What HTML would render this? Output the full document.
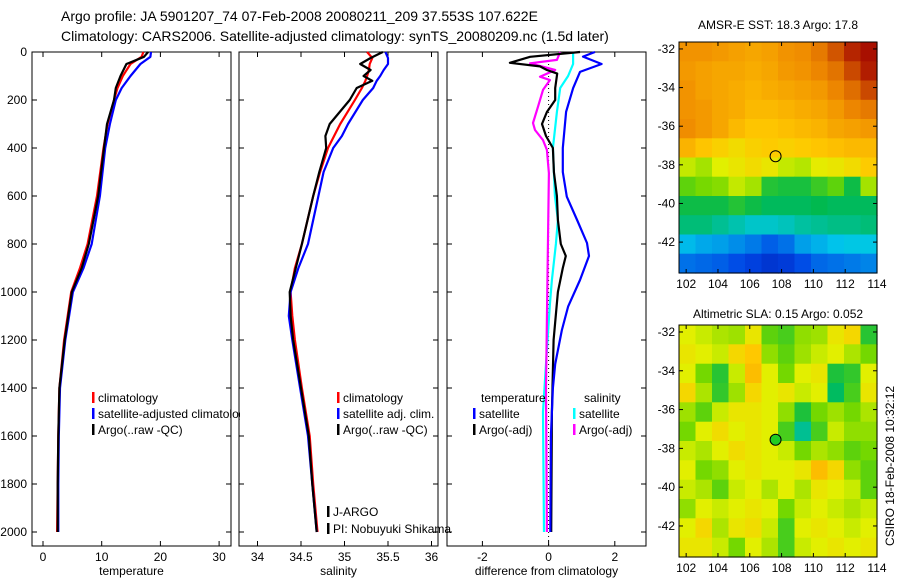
<!DOCTYPE html>
<html><head><meta charset="utf-8"><style>
body{margin:0;background:#fff}
svg{display:block;font-family:"Liberation Sans",sans-serif}
</style></head><body>
<svg id="c" width="900" height="580" viewBox="0 0 900 580" xmlns="http://www.w3.org/2000/svg">
<rect width="900" height="580" fill="#fff"/>
<text x="61" y="21" font-size="14">Argo profile: JA 5901207_74 07-Feb-2008 20080211_209 37.553S 107.622E</text>
<text x="61" y="41" font-size="14">Climatology: CARS2006. Satellite-adjusted climatology: synTS_20080209.nc (1.5d later)</text>
<text x="778" y="29" font-size="12" text-anchor="middle">AMSR-E SST: 18.3 Argo: 17.8</text>
<text x="778" y="318" font-size="12" text-anchor="middle">Altimetric SLA: 0.15 Argo: 0.052</text>
<text transform="translate(894,466) rotate(-90)" font-size="12" text-anchor="middle">CSIRO 18-Feb-2008 10:32:12</text>
<defs><clipPath id="clipLeg"><rect x="0" y="0" width="240" height="580"/></clipPath></defs>
<g id="plots"></g>
</svg>
<script>
// ---- profile data (depth m, value) ----
const depthTicks=[0,200,400,600,800,1000,1200,1400,1600,1800,2000];
const tempTicks=[0,10,20,30];
const salTicks=[34,34.5,35,35.5,36];
const salTickLabels=['34','34.5','35','35.5','36'];
const diffTicks=[-2,0,2];
const tempDepth=[0,20,50,100,150,200,300,400,600,800,900,1000,1200,1400,1600,1800,2000];
const tempClim=[17.1,16.8,14.9,13.6,12.7,12.1,11.0,10.3,9.2,7.6,6.3,4.8,3.6,2.8,2.6,2.5,2.4];
const tempSat=[18.4,18.3,16.6,14.9,13.4,12.4,11.4,10.6,9.7,8.3,6.9,5.1,3.8,2.9,2.7,2.6,2.6];
const tempArgo=[17.9,17.2,14.2,13.2,12.4,12.1,10.9,10.4,9.4,7.8,6.6,4.9,3.7,2.8,2.6,2.5,2.5];
const salDepth=[0,25,50,75,100,120,150,200,300,350,400,500,600,800,900,1000,1100,1200,1400,1600,1800,2000];
const salClim=[35.26,35.32,35.29,35.28,35.26,35.24,35.2,35.12,34.95,34.88,34.81,34.72,34.64,34.51,34.43,34.38,34.4,34.43,34.51,34.6,34.64,34.69];
const salSat=[35.47,35.5,35.5,35.45,35.41,35.37,35.33,35.21,35.04,34.97,34.87,34.76,34.7,34.58,34.47,34.38,34.36,34.4,34.49,34.58,34.63,34.68];
const salArgo=[35.44,35.3,35.18,35.3,35.22,35.32,35.14,35.06,34.83,34.78,34.79,34.71,34.64,34.51,34.44,34.37,34.38,34.41,34.5,34.59,34.63,34.68];
const dTsatDepth=[0,19,50,83,151,249,400,500,603,700,796,850,950,1061,1160,1300,1400,1600,2000];
const dTsat=[1.4,1.04,1.6,0.95,0.74,0.53,0.43,0.43,0.55,0.86,1.16,1.22,0.95,0.59,0.4,0.2,0.13,0.07,0.05];
const dSsatDepth=[0,50,100,150,250,400,600,700,800,950,1050,1300,1500,2000];
const dSsat=[0.74,0.74,0.59,0.35,0.25,0.13,0.19,0.28,0.22,0.1,0.04,-0.08,-0.17,-0.14];
const dTargoDepth=[0,20,45,60,75,90,150,200,250,300,350,400,500,600,700,800,850,900,1000,1200,1500,2000];
const dTargo=[0.95,-0.56,-1.17,-0.26,-0.05,0.26,0.2,0.2,-0.05,-0.2,-0.08,0.13,0.16,0.25,0.28,0.37,0.52,0.43,0.28,0.15,0.1,0.08];
const dSargoDepth=[0,33,47,75,103,117,158,228,296,325,367,408,505,1117,1400,2000];
const dSargo=[0.35,0.25,-0.56,0.2,-0.26,0.04,-0.17,-0.32,-0.47,-0.41,-0.17,-0.05,0.01,-0.05,-0.08,-0.05];
// ---- map data ----
const mapLonTicks=[102,104,106,108,110,112,114];
const mapLatTicks=[-32,-34,-36,-38,-40,-42];
const sstGrid=[
[19.8,19.8,19.7,19.6,19.5,19.6,19.8,19.9,20.2,20.8,21.5,21.8],
[19.7,19.6,19.5,19.5,19.4,19.5,19.7,19.8,20.0,20.3,21.0,21.6],
[19.8,19.6,19.5,19.4,19.3,19.4,19.5,19.6,19.7,20.0,20.4,21.0],
[19.8,19.7,19.5,19.4,19.2,19.2,19.3,19.4,19.5,19.7,20.0,20.2],
[19.9,19.7,19.5,19.2,19.0,19.0,19.1,19.2,19.3,19.5,19.6,19.7],
[19.3,19.0,18.8,18.6,18.8,18.9,18.8,18.9,19.0,19.1,19.2,19.2],
[18.0,17.8,18.2,18.4,18.6,18.4,18.0,17.9,18.3,18.4,18.6,18.9],
[17.3,17.5,17.6,18.0,17.8,16.8,16.7,16.7,17.0,17.3,16.6,17.8],
[16.6,16.6,16.6,16.8,16.6,16.4,16.4,16.4,16.5,16.4,16.4,16.4],
[16.2,16.2,16.0,15.8,15.6,15.6,15.7,15.9,16.0,16.1,16.1,16.2],
[15.2,15.0,14.9,14.7,14.5,14.2,14.4,14.9,15.1,15.3,15.4,15.4],
[14.4,14.3,14.2,14.0,13.8,13.6,13.7,14.0,14.3,14.4,14.5,14.6]];
const slaGrid=[
[.10,.08,.06,.05,.12,.00,-.02,.04,.05,.12,.15,-.05],
[.12,.10,.08,.15,.18,.04,.00,.05,.08,.10,.06,.02],
[.10,.02,-.05,.08,.20,.10,.02,.10,.12,-.06,-.04,.10],
[.15,.06,-.04,.05,.15,.10,.12,.08,.10,-.10,-.02,.12],
[.05,.00,.08,.12,.12,.10,.04,-.06,.02,.05,.02,.06],
[.02,.10,.14,.10,.12,.10,-.02,-.14,-.02,.08,.04,.04],
[.08,.06,.10,.14,.12,.10,.08,.02,.06,.04,.00,.02],
[.10,.02,.04,.10,.12,.10,.10,.12,.20,.15,.04,.00],
[.08,.06,.00,.08,.10,.06,.10,.06,.12,.10,.08,.00],
[.04,.10,.08,.10,.12,.10,.02,.08,.10,.08,.06,.08],
[.10,.15,.06,.12,.14,.08,-.02,.10,.12,.10,.08,.10],
[.12,.12,.08,.02,.10,.06,-.02,.08,.10,.12,.10,.12]];
const argoLon=107.622, argoLat=-37.553;

const NS='http://www.w3.org/2000/svg';
const root=document.getElementById('plots');
function mk(tag,attrs,parent){const e=document.createElementNS(NS,tag);for(const k in attrs)e.setAttribute(k,attrs[k]);(parent||root).appendChild(e);return e;}
const yD=d=>52+d*0.24;
const PT=546;
function panel(x0,x1,xf,ticks,labels,name,xlabel,showY){
  const g=mk('g',{});
  
  
  mk('rect',{x:x0,y:52,width:x1-x0,height:PT-52,fill:'none',stroke:'#000','stroke-width':1},g);
  ticks.forEach((t,i)=>{const x=xf(t);
    mk('line',{x1:x,x2:x,y1:PT,y2:PT-5,stroke:'#000'},g);
    mk('line',{x1:x,x2:x,y1:52,y2:57,stroke:'#000'},g);
    const tx=mk('text',{x:x,y:PT+15,'font-size':12,'text-anchor':'middle'},g);tx.textContent=labels[i];
    
    });
  depthTicks.forEach(d=>{const y=yD(d);
    mk('line',{x1:x0,x2:x0+5,y1:y,y2:y,stroke:'#000'},g);
    mk('line',{x1:x1,x2:x1-5,y1:y,y2:y,stroke:'#000'},g);
    if(showY){const t=mk('text',{x:x0-5,y:y+4,'font-size':12,'text-anchor':'end'},g);t.textContent=d;
      
      }});
  const xl=mk('text',{x:(x0+x1)/2,y:575,'font-size':12,'text-anchor':'middle'},g);xl.textContent=xlabel;
  
  
  return g;
}
function line(g,depths,vals,xf,color,name,w){
  const pts=depths.map((d,i)=>xf(vals[i]).toFixed(1)+','+yD(d).toFixed(1)).join(' ');
  const p=mk('polyline',{points:pts,fill:'none',stroke:color,'stroke-width':w||2.2,'stroke-linejoin':'round'},g);
  
  
}
function leg(g,x,y,color,text,name){
  mk('rect',{x:x,y:y-10,width:2.5,height:11,fill:color},g);
  const t=mk('text',{x:x+6,y:y,'font-size':12},g);t.textContent=text;
  
  
}
// temperature
const xT=v=>43+v*5.87;
const g1=panel(32,231,xT,tempTicks,tempTicks.map(String),'temperature-panel','temperature',true);
line(g1,tempDepth,tempClim,xT,'#f00','temp-climatology-line');
line(g1,tempDepth,tempSat,xT,'#00f','temp-satellite-line');
line(g1,tempDepth,tempArgo,xT,'#000','temp-argo-line');
const lg1=mk('g',{'clip-path':'url(#clipLeg)'},g1);


leg(lg1,92,402,'#f00','climatology','legend-climatology');
leg(lg1,92,418,'#00f','satellite-adjusted climatology','legend-satellite-adjusted');
leg(lg1,92,434,'#000','Argo(..raw -QC)','legend-argo');
// salinity
const xS=v=>257.5+(v-34)*87;
const g2=panel(239,438,xS,salTicks,salTickLabels,'salinity-panel','salinity',false);
line(g2,salDepth,salClim,xS,'#f00','sal-climatology-line');
line(g2,salDepth,salSat,xS,'#00f','sal-satellite-line');
line(g2,salDepth,salArgo,xS,'#000','sal-argo-line');
leg(g2,337,402,'#f00','climatology','legend-climatology');
leg(g2,337,418,'#00f','satellite adj. clim.','legend-satellite-adj');
leg(g2,337,434,'#000','Argo(..raw -QC)','legend-argo');
leg(g2,327,516,'#000','J-ARGO','j-argo-label');
leg(g2,327,533,'#000','PI: Nobuyuki Shikama','pi-label');
// difference
const xF=v=>548.6+v*33.1;
const g3=panel(447,646,xF,diffTicks,diffTicks.map(String),'difference-panel','difference from climatology',false);
const z=mk('line',{x1:xF(0),x2:xF(0),y1:52,y2:PT,stroke:'#000','stroke-dasharray':'1,3'},g3);


line(g3,dSsatDepth,dSsat,xF,'#0ff','sal-satellite-diff-line');
line(g3,dSargoDepth,dSargo,xF,'#f0f','sal-argo-diff-line');
line(g3,dTargoDepth,dTargo,xF,'#000','temp-argo-diff-line');
line(g3,dTsatDepth,dTsat,xF,'#00f','temp-satellite-diff-line');
const th=mk('text',{x:481,y:402,'font-size':12},g3);th.textContent='temperature';


const sh=mk('text',{x:584,y:402,'font-size':12},g3);sh.textContent='salinity';


leg(g3,473,418,'#00f','satellite','legend-temp-satellite');
leg(g3,473,434,'#000','Argo(-adj)','legend-temp-argo');
leg(g3,573,418,'#0ff','satellite','legend-sal-satellite');
leg(g3,573,434,'#f0f','Argo(-adj)','legend-sal-argo');
// maps
const cmapStops=[[0,[0,0,140]],[0.15,[0,70,230]],[0.3,[0,200,235]],[0.42,[0,185,80]],[0.52,[110,215,0]],[0.6,[225,240,0]],[0.68,[255,200,0]],[0.78,[240,140,0]],[0.9,[200,70,0]],[1,[160,0,0]]];
function cmap(t){t=Math.max(0,Math.min(1,t));
  for(let i=1;i<cmapStops.length;i++){const [a,ca]=cmapStops[i-1],[b,cb]=cmapStops[i];
    if(t<=b){const f=(t-a)/(b-a);return 'rgb('+ca.map((v,k)=>Math.round(v+(cb[k]-v)*f)).join(',')+')';}}
  return 'rgb(160,0,0)';}
function map(top,bot,grid,norm,name,fillCircle){
  const L=679,R=877,lon0=101.55,lon1=114,lat0=-31.64,lat1=-43.6;
  const xm=v=>L+(v-lon0)/(lon1-lon0)*(R-L);
  const ym=v=>top+(v-lat0)/(lat1-lat0)*(bot-top);
  const g=mk('g',{});
  
  
  const rows=grid.length,cols=grid[0].length;
  const dlon=(lon1-lon0)/cols,dlat=(lat1-lat0)/rows;
  grid.forEach((row,r)=>row.forEach((v,c)=>{
    const x=xm(lon0+c*dlon),y=ym(lat0+r*dlat);
    const cell=mk('rect',{x:x.toFixed(1),y:y.toFixed(1),width:(xm(lon0+(c+1)*dlon)-x+0.6).toFixed(1),height:(ym(lat0+(r+1)*dlat)-y+0.6).toFixed(1),fill:cmap(norm(v))},g);
    
    }));
  mk('rect',{x:L,y:top,width:R-L,height:bot-top,fill:'none',stroke:'#000'},g);
  mapLonTicks.forEach(t=>{const x=xm(t);
    mk('line',{x1:x,x2:x,y1:bot,y2:bot-4,stroke:'#000'},g);mk('line',{x1:x,x2:x,y1:top,y2:top+4,stroke:'#000'},g);
    const tx=mk('text',{x:x,y:bot+15,'font-size':12,'text-anchor':'middle'},g);tx.textContent=t;
    
    });
  mapLatTicks.forEach(t=>{const y=ym(t);
    mk('line',{x1:L,x2:L+4,y1:y,y2:y,stroke:'#000'},g);mk('line',{x1:R,x2:R-4,y1:y,y2:y,stroke:'#000'},g);
    const tx=mk('text',{x:L-4,y:y+4,'font-size':12,'text-anchor':'end'},g);tx.textContent=t;
    
    });
  const c=mk('circle',{cx:xm(argoLon),cy:ym(argoLat),r:5.5,fill:fillCircle,stroke:'#000'},g);
  
  
}
map(42,273,sstGrid,v=>(v-12.5)/9.5,'sst-map','none');
map(325,557,slaGrid,v=>(v+0.52)/1.03,'sla-map','#2c2');
</script>
</body></html>
